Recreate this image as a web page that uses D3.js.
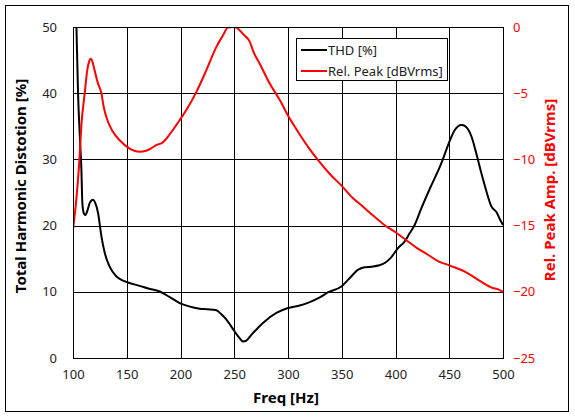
<!DOCTYPE html>
<html>
<head>
<meta charset="utf-8">
<script src="https://d3js.org/d3.v7.min.js"></script>
<style>
  body { margin: 0; background: #fff; }
  text { font-family: "Noto Sans", "Open Sans", sans-serif; }
</style>
</head>
<body>
<div id="chart-area"></div>
<script>
// values
var thdFreq = [100, 102, 103.2, 104.7, 106.5, 107.8, 108.7, 110, 111.5, 113.5, 115.5, 118.6, 120.5, 123.3, 126.4, 129.5, 134.1, 140.4, 145, 151.2, 162, 170, 180.6, 190, 199.2, 208, 217.8, 225, 233.4, 238, 242.7, 250.4, 255, 258.1, 261, 265.9, 276.7, 289.2, 300, 310, 320.2, 330, 337, 349.6, 357, 365, 371, 377.5, 385, 390, 396, 402.3, 408.5, 413, 417.8, 424, 432, 442.6, 450, 455, 461.3, 465, 470.6, 475, 479.9, 484, 489.2, 494, 497, 500];
var thdVals = [75, 58, 50, 40, 33, 28.5, 23.4, 21.9, 21.6, 22.3, 23.4, 23.9, 23.5, 21.9, 18.4, 15.9, 13.8, 12.3, 11.8, 11.4, 10.9, 10.5, 10.05, 9.2, 8.3, 7.8, 7.45, 7.35, 7.2, 6.6, 5.8, 4.0, 3.0, 2.5, 2.6, 3.5, 5.3, 6.8, 7.55, 7.9, 8.45, 9.2, 9.9, 10.8, 12, 13.3, 13.7, 13.8, 14.0, 14.35, 15.2, 16.6, 17.6, 18.8, 20.1, 22.6, 25.6, 29.4, 32.6, 34.4, 35.2, 35, 33.5, 31, 27.9, 25.5, 22.9, 22, 21, 20.1];

var peakFreq = [100, 103, 105.5, 108, 110.9, 113.2, 115, 116.5, 118, 120.2, 123, 126.4, 128.5, 131, 137, 143.4, 152.7, 157, 162, 168, 173, 177.5, 183.7, 190, 199.2, 206, 214.8, 224, 233.4, 239.5, 244, 248, 252, 255, 259, 264.4, 268, 273.7, 283, 292.2, 301.5, 310, 320, 328, 340, 350, 360, 368.2, 380, 389.9, 400, 411.6, 420, 430.2, 440, 450, 467.4, 475, 483, 490, 495, 500];
var peakVals = [-15.3, -13.1, -10.6, -7.2, -5.0, -3.3, -2.6, -2.4, -2.6, -3.3, -4.2, -5.0, -6.0, -6.8, -7.9, -8.55, -9.18, -9.35, -9.43, -9.35, -9.15, -8.93, -8.7, -8.1, -7.04, -6.2, -4.9, -3.27, -1.5, -0.63, -0.05, 0, -0.05, -0.25, -0.6, -1.1, -1.9, -2.77, -4.27, -5.5, -6.9, -8.0, -9.2, -10.06, -11.2, -12.0, -12.9, -13.46, -14.3, -14.97, -15.5, -16.2, -16.7, -17.2, -17.7, -18.0, -18.6, -19.0, -19.4, -19.7, -19.8, -20.0];

var xTicks = [100, 150, 200, 250, 300, 350, 400, 450, 500];
var leftTicks = [0, 10, 20, 30, 40, 50];
var rightTicks = [-25, -20, -15, -10, -5, 0];
var seriesNames = ["THD [%]", "Rel. Peak [dBVrms]"];

var margin = {top: 27, right: 72, bottom: 60, left: 73};
var width = 430;
var height = 331;

var svg = d3.select("#chart-area")
    .append("svg")
    .attr("width", 575)
    .attr("height", 418);

// outer frame
svg.append("rect")
    .attr("x", 5.5)
    .attr("y", 5.5)
    .attr("width", 563)
    .attr("height", 406)
    .attr("fill", "none")
    .attr("stroke", "black");

var g = svg.append("g")
    .attr("transform", "translate(" + margin.left + ", " + margin.top + ")");

var x = d3.scaleLinear().domain([100, 500]).range([0, width]);
var yL = d3.scaleLinear().domain([0, 50]).range([height, 0]);
var yR = d3.scaleLinear().domain([-25, 0]).range([height, 0]);

// grid
g.selectAll(".vgrid").data(xTicks).enter()
    .append("line")
    .attr("x1", (d) => Math.round(x(d)) + 0.5)
    .attr("x2", (d) => Math.round(x(d)) + 0.5)
    .attr("y1", 0)
    .attr("y2", height)
    .attr("stroke", "black");

g.selectAll(".hgrid").data(leftTicks).enter()
    .append("line")
    .attr("x1", 0)
    .attr("x2", width)
    .attr("y1", (d) => Math.round(yL(d)) + 0.5)
    .attr("y2", (d) => Math.round(yL(d)) + 0.5)
    .attr("stroke", "black");

// axes (labels only, the grid draws the lines)
var bottomAxis = d3.axisBottom(x).tickValues(xTicks).tickSize(0).tickPadding(12);
g.append("g")
    .attr("transform", "translate(0, " + height + ")")
    .call(bottomAxis)
    .call((a) => a.select(".domain").remove())
    .selectAll("text")
    .attr("font-size", "13px")
    .attr("fill", "#222");

var leftAxis = d3.axisLeft(yL).tickValues(leftTicks).tickSize(0).tickPadding(16);
g.append("g")
    .call(leftAxis)
    .call((a) => a.select(".domain").remove())
    .selectAll("text")
    .attr("font-size", "13px")
    .attr("fill", "#222");

var rightAxis = d3.axisRight(yR).tickValues(rightTicks).tickSize(0).tickPadding(10);
g.append("g")
    .attr("transform", "translate(" + width + ", 0)")
    .call(rightAxis)
    .call((a) => a.select(".domain").remove())
    .selectAll("text")
    .attr("font-size", "13px")
    .attr("fill", "red");

// curves
var clip = svg.append("clipPath").attr("id", "plotclip")
    .append("rect").attr("width", width).attr("height", height);

var thdData = thdFreq.map((f, i) => [f, thdVals[i]]);
var peakData = peakFreq.map((f, i) => [f, peakVals[i]]);

var thdLine = d3.line()
    .x((d) => x(d[0]))
    .y((d) => yL(d[1]))
    .curve(d3.curveMonotoneX);

var peakLine = d3.line()
    .x((d) => x(d[0]))
    .y((d) => yR(d[1]))
    .curve(d3.curveMonotoneX);

var curves = g.append("g").attr("clip-path", "url(#plotclip)");

curves.append("path")
    .datum(thdData)
    .attr("d", thdLine)
    .attr("fill", "none")
    .attr("stroke", "black")
    .attr("stroke-width", 2);

curves.append("path")
    .datum(peakData)
    .attr("d", peakLine)
    .attr("fill", "none")
    .attr("stroke", "red")
    .attr("stroke-width", 2);

// plot border
g.append("rect")
    .attr("x", 0.5)
    .attr("y", 0.5)
    .attr("width", width)
    .attr("height", height)
    .attr("fill", "none")
    .attr("stroke", "black");

// legend
var legend = svg.append("g").attr("transform", "translate(296, 38)");
legend.append("rect")
    .attr("x", 0.5)
    .attr("y", 0.5)
    .attr("width", 151)
    .attr("height", 42)
    .attr("fill", "white")
    .attr("stroke", "black");

var legendColors = ["black", "red"];
seriesNames.forEach((name, i) => {
    legend.append("line")
        .attr("x1", 5)
        .attr("x2", 31)
        .attr("y1", 12 + i * 21)
        .attr("y2", 12 + i * 21)
        .attr("stroke", legendColors[i])
        .attr("stroke-width", 2);
    legend.append("text")
        .attr("x", 32)
        .attr("y", 12 + i * 21)
        .attr("dy", "0.35em")
        .attr("font-size", "13px")
        .attr("fill", "#222")
        .text(name);
});

// x axis label
svg.append("text")
    .attr("x", 286)
    .attr("y", 403)
    .attr("font-size", "15px")
    .attr("font-weight", "bold")
    .attr("text-anchor", "middle")
    .text("Freq [Hz]");

// y axis label
svg.append("text")
    .attr("transform", "translate(26, 186) rotate(-90)")
    .attr("font-size", "15px")
    .attr("font-weight", "bold")
    .attr("text-anchor", "middle")
    .text("Total Harmonic Distotion [%]");

// right axis label
svg.append("text")
    .attr("transform", "translate(555, 190) rotate(-90)")
    .attr("font-size", "15px")
    .attr("font-weight", "bold")
    .attr("text-anchor", "middle")
    .attr("fill", "red")
    .text("Rel. Peak Amp. [dBVrms]");
</script>
</body>
</html>
